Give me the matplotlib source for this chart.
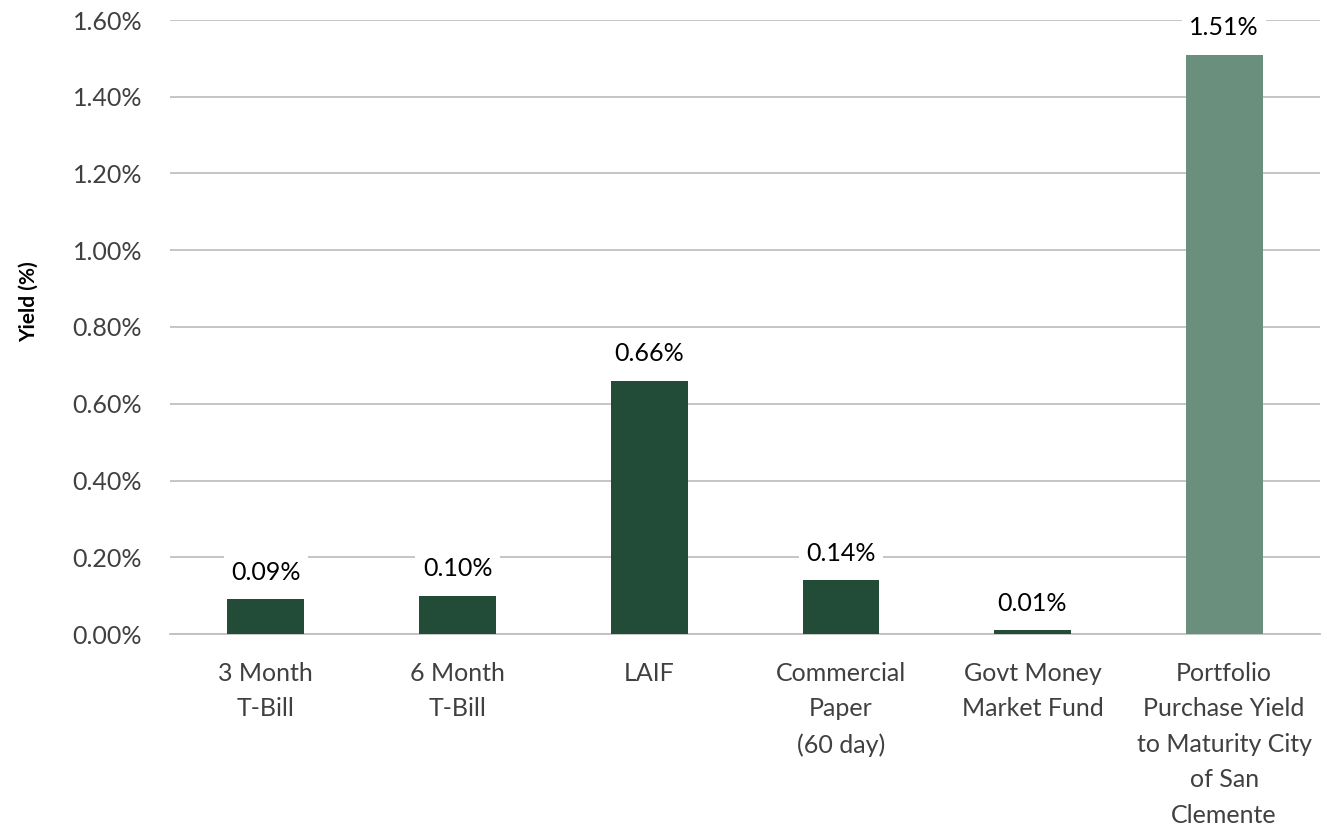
import matplotlib
matplotlib.use("Agg")
import matplotlib.pyplot as plt
from matplotlib.ticker import FuncFormatter, MultipleLocator

categories = ["3 Month\nT-Bill", "6 Month\nT-Bill", "LAIF", "Commercial\nPaper\n(60 day)",
              "Govt Money\nMarket Fund", "Portfolio\nPurchase Yield\nto Maturity City\nof San\nClemente"]
values = [0.09, 0.10, 0.66, 0.14, 0.01, 1.51]
colors = ["#224C37", "#224C37", "#224C37", "#224C37", "#224C37", "#6A8F7C"]

plt.rcParams['font.family'] = ['Lato', 'DejaVu Sans']

fig = plt.figure(figsize=(13.27, 8.31), dpi=100)
ax = fig.add_axes([170/1327, 1-634/831, 1150/1327, 614/831])

x = list(range(len(categories)))
bars = ax.bar(x, values, width=0.40, color=colors, zorder=3)

ax.set_xlim(-0.5, len(categories) - 0.5)
ax.set_ylim(0, 1.6)
ax.yaxis.set_major_locator(MultipleLocator(0.2))
ax.yaxis.set_major_formatter(FuncFormatter(lambda v, p: f"{v:.2f}%"))
ax.grid(axis='y', color='#C0C0C0', linewidth=1.3, zorder=0)
ax.set_axisbelow(True)
for s in ['top', 'right', 'left']:
    ax.spines[s].set_visible(False)
ax.spines['bottom'].set_color('#C0C0C0')
ax.spines['bottom'].set_linewidth(1.3)
ax.tick_params(axis='both', length=0, labelsize=18, colors='#404040')
ax.tick_params(axis='y', pad=20)
ax.tick_params(axis='x', pad=20)
ax.set_xticks(x)
ax.set_xticklabels(categories, linespacing=1.66)
ax.set_ylabel("Yield (%)", fontsize=15, fontweight='bold', color='black')
ax.yaxis.set_label_coords(-0.114, 0.542)

for xi, v in zip(x, values):
    ax.annotate(f"{v:.2f}%", (xi, v), xytext=(0, 11), textcoords='offset points',
                ha='center', va='bottom', fontsize=18, color='black', zorder=4,
                bbox=dict(boxstyle='square,pad=0.3', facecolor='white', edgecolor='none'))

fig.savefig("out.png", dpi=100)
